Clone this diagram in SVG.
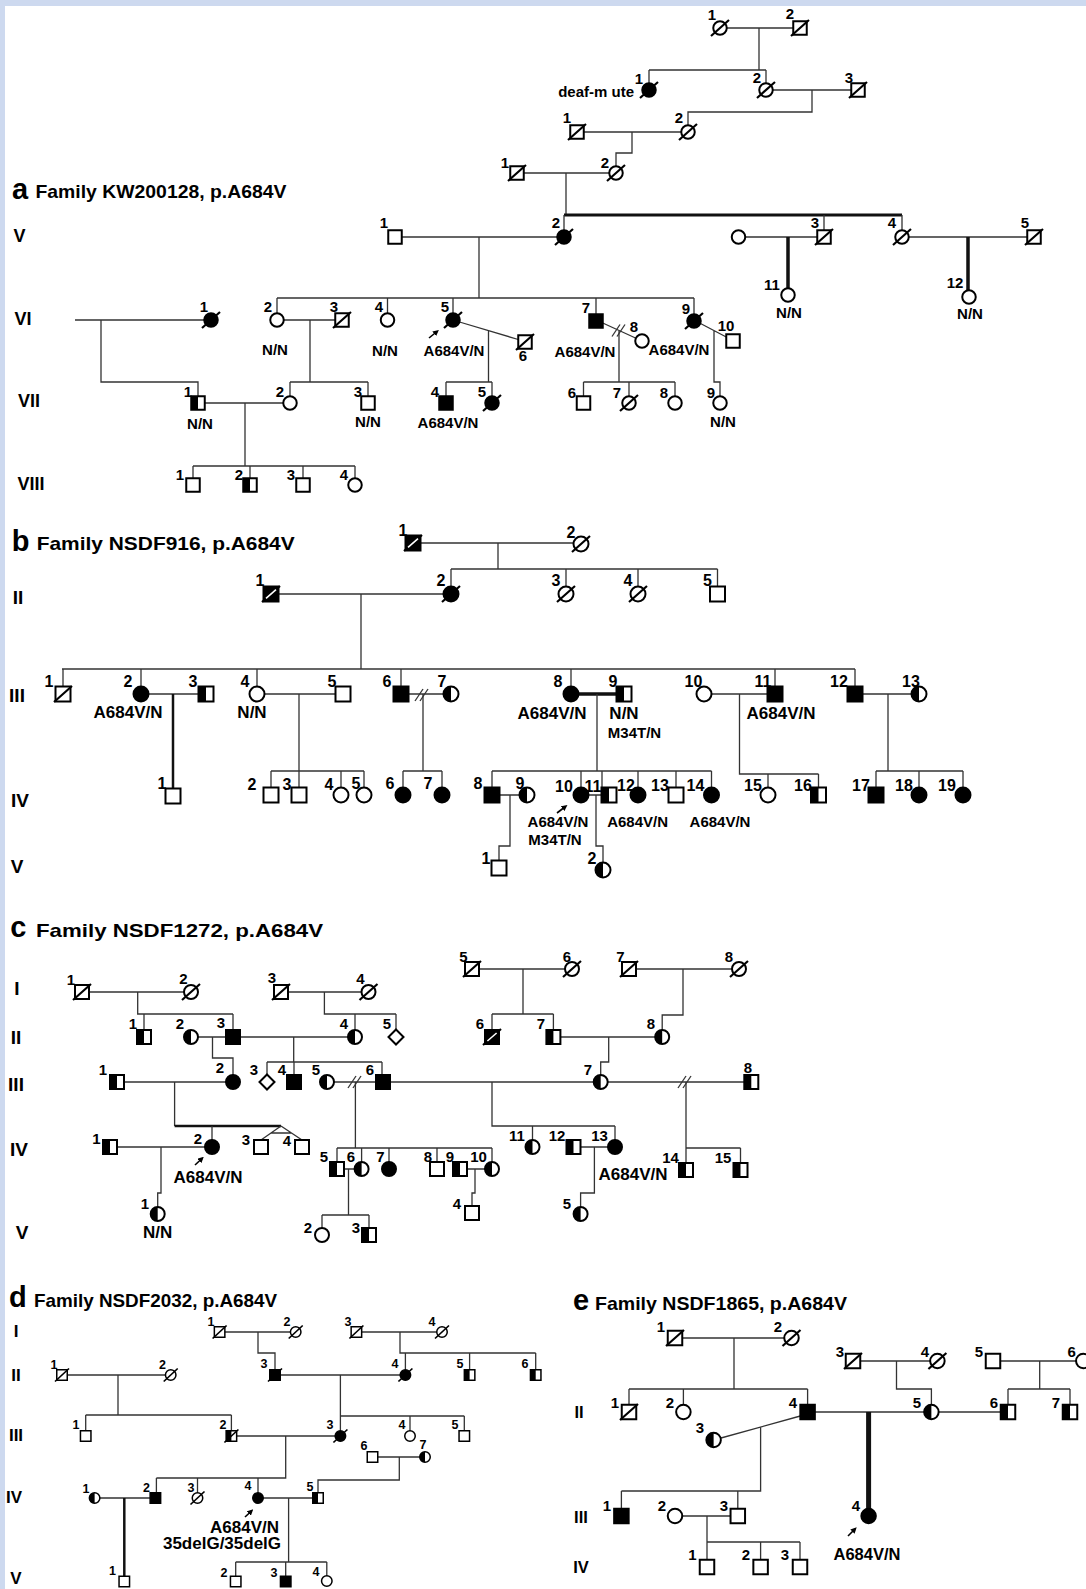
<svg xmlns="http://www.w3.org/2000/svg" xmlns:xlink="http://www.w3.org/1999/xlink" width="1086" height="1589" viewBox="0 0 1086 1589">
<style>
.ln{fill:none;stroke:#333;stroke-width:1.3}
.bd{fill:none;stroke:#111}
.sy{stroke:#000;stroke-width:2;fill:#fff}
.sd{stroke:#000;stroke-width:1.5;fill:#fff}
.k{fill:#000}
.dc{stroke:#000;stroke-width:2.2}
.dcs{stroke-width:1.7}
.t{font-family:"Liberation Sans",Arial,Helvetica,sans-serif;font-weight:bold;fill:#000;text-anchor:middle}
.st{text-anchor:start}
.en{text-anchor:end}
.n15{font-size:15px}
.n16{font-size:16px}
.n12{font-size:12.5px}
.f17{font-size:17px}
.f165{font-size:16.5px}
.f18{font-size:18px}
.f19{font-size:19px}
.big{font-size:29px}
.ar{stroke:#000;stroke-width:1.6;fill:none}
</style>
<defs>
<marker id="ah" viewBox="0 0 10 10" refX="6" refY="5" markerWidth="6" markerHeight="6" markerUnits="userSpaceOnUse" orient="auto"><path d="M0,0L10,5L0,10Z" fill="#000"/></marker>
<g id="dec"><line x1="-9" y1="8" x2="9" y2="-8" class="dc"/></g>
<g id="decd"><line x1="-7" y1="6.5" x2="7" y2="-6.5" class="dc dcs"/></g>
<g id="dsl"><line x1="-7" y1="6" x2="1" y2="-6" class="ln"/><line x1="-2" y1="6" x2="6" y2="-6" class="ln"/></g>
<!-- panel a -->
<g id="a-sq"><rect x="-6.75" y="-6.75" width="13.5" height="13.5" class="sy"/></g>
<g id="a-sqf"><rect x="-6.75" y="-6.75" width="13.5" height="13.5" class="sy k"/></g>
<g id="a-sqh"><rect x="-6.75" y="-6.75" width="13.5" height="13.5" class="sy"/><rect x="-6.75" y="-6.75" width="6.75" height="13.5" class="k"/></g>
<g id="a-ci"><circle r="6.75" class="sy"/></g>
<g id="a-cif"><circle r="6.75" class="sy k"/></g>
<!-- panel b -->
<g id="b-sq"><rect x="-7.5" y="-7.5" width="15" height="15" class="sy"/></g>
<g id="b-sqf"><rect x="-7.5" y="-7.5" width="15" height="15" class="sy k"/></g>
<g id="b-sqh"><rect x="-7.5" y="-7.5" width="15" height="15" class="sy"/><rect x="-7.5" y="-7.5" width="7.5" height="15" class="k"/></g>
<g id="b-sqfd"><rect x="-7.5" y="-7.5" width="15" height="15" class="sy k"/><line x1="-9" y1="8" x2="9" y2="-8" class="dc"/><line x1="-5" y1="4.4" x2="5" y2="-4.4" stroke="#fff" stroke-width="1.6"/></g>
<g id="b-ci"><circle r="7.5" class="sy"/></g>
<g id="b-cif"><circle r="7.5" class="sy k"/></g>
<g id="b-cih"><circle r="7.5" class="sy"/><path d="M0,-7.5A7.5,7.5 0 0 0 0,7.5Z" class="k"/></g>
<!-- panel c -->
<g id="c-sq"><rect x="-7" y="-7" width="14" height="14" class="sy"/></g>
<g id="c-sqf"><rect x="-7" y="-7" width="14" height="14" class="sy k"/></g>
<g id="c-sqh"><rect x="-7" y="-7" width="14" height="14" class="sy"/><rect x="-7" y="-7" width="7" height="14" class="k"/></g>
<g id="c-sqfd"><rect x="-7" y="-7" width="14" height="14" class="sy k"/><line x1="-9" y1="8" x2="9" y2="-8" class="dc"/><line x1="-4.6" y1="4" x2="4.6" y2="-4" stroke="#fff" stroke-width="1.6"/></g>
<g id="c-ci"><circle r="7" class="sy"/></g>
<g id="c-cif"><circle r="7" class="sy k"/></g>
<g id="c-cih"><circle r="7" class="sy"/><path d="M0,-7A7,7 0 0 0 0,7Z" class="k"/></g>
<g id="c-dia"><polygon points="0,-7.5 7.5,0 0,7.5 -7.5,0" class="sy"/></g>
<!-- panel d -->
<g id="d-sq"><rect x="-5.25" y="-5.25" width="10.5" height="10.5" class="sd"/></g>
<g id="d-sqf"><rect x="-5.25" y="-5.25" width="10.5" height="10.5" class="sd k"/></g>
<g id="d-sqh"><rect x="-5.25" y="-5.25" width="10.5" height="10.5" class="sd"/><rect x="-5.25" y="-5.25" width="5.25" height="10.5" class="k"/></g>
<g id="d-ci"><circle r="5.25" class="sd"/></g>
<g id="d-cif"><circle r="5.25" class="sd k"/></g>
<g id="d-cih"><circle r="5.25" class="sd"/><path d="M0,-5.25A5.25,5.25 0 0 0 0,5.25Z" class="k"/></g>
<!-- panel e -->
<g id="e-sq"><rect x="-7.25" y="-7.25" width="14.5" height="14.5" class="sy"/></g>
<g id="e-sqf"><rect x="-7.25" y="-7.25" width="14.5" height="14.5" class="sy k"/></g>
<g id="e-sqh"><rect x="-7.25" y="-7.25" width="14.5" height="14.5" class="sy"/><rect x="-7.25" y="-7.25" width="7.25" height="14.5" class="k"/></g>
<g id="e-ci"><circle r="7.25" class="sy"/></g>
<g id="e-cif"><circle r="7.25" class="sy k"/></g>
<g id="e-cih"><circle r="7.25" class="sy"/><path d="M0,-7.25A7.25,7.25 0 0 0 0,7.25Z" class="k"/></g>
</defs>

<rect x="0" y="0" width="1086" height="1589" fill="#fff"/>
<rect x="0" y="0" width="1086" height="6" fill="#cdd9ef"/>
<rect x="0" y="0" width="5" height="1589" fill="#cdd9ef"/>

<g id="titles">
<text class="t st big" x="12" y="199">a</text>
<text class="t st f19" x="35.5" y="198" textLength="251" lengthAdjust="spacingAndGlyphs">Family KW200128, p.A684V</text>
<text class="t st big" x="11.7" y="551">b</text>
<text class="t st f19" x="36.7" y="550" textLength="258" lengthAdjust="spacingAndGlyphs">Family NSDF916, p.A684V</text>
<text class="t st big" x="10.3" y="937">c</text>
<text class="t st f19" x="36" y="937" textLength="287" lengthAdjust="spacingAndGlyphs">Family NSDF1272, p.A684V</text>
<text class="t st big" x="9" y="1307">d</text>
<text class="t st f19" x="34" y="1306.7" textLength="243" lengthAdjust="spacingAndGlyphs">Family NSDF2032, p.A684V</text>
<text class="t st big" x="573" y="1310">e</text>
<text class="t st f19" x="595" y="1310" textLength="252" lengthAdjust="spacingAndGlyphs">Family NSDF1865, p.A684V</text>
</g>

<g id="generations">
<text class="t f18" x="19.6" y="241.5">V</text>
<text class="t f18" x="23" y="324.5">VI</text>
<text class="t f18" x="29" y="406.5">VII</text>
<text class="t f18" x="31" y="489.5">VIII</text>
<text class="t f19" x="18" y="603.8">II</text>
<text class="t f19" x="17" y="701.8">III</text>
<text class="t f19" x="20" y="806.8">IV</text>
<text class="t f19" x="17" y="872.8">V</text>
<text class="t f19" x="17" y="994.8">I</text>
<text class="t f19" x="16" y="1043.8">II</text>
<text class="t f19" x="16" y="1090.8">III</text>
<text class="t f19" x="19" y="1155.8">IV</text>
<text class="t f19" x="22" y="1238.8">V</text>
<text class="t f17" x="16" y="1337.1">I</text>
<text class="t f17" x="16" y="1381.1">II</text>
<text class="t f17" x="16" y="1441.1">III</text>
<text class="t f17" x="14" y="1503.1">IV</text>
<text class="t f17" x="16" y="1584.1">V</text>
<text class="t f165" x="579" y="1417.9">II</text>
<text class="t f165" x="581" y="1522.9">III</text>
<text class="t f165" x="581" y="1572.9">IV</text>
</g>

<g id="connectors">
<!-- panel a -->
<path class="ln" d="M726.75,28H793.25M759,28V70M649,70H766M649,70V83M766,70V83M772.75,90H851.25M812,90V112H688V125M583.75,132H681.25M632,132V153H616V166M523.75,173H609.25M566,173V215"/>
<path class="bd" stroke-width="3" d="M564,215H902"/>
<path class="ln" d="M564,215V230M824,215V230M902,215V230M401.75,237H557.25M479,237V298M745.25,237H817.25M908.75,237H1027.25"/>
<path class="bd" stroke-width="3.5" d="M788,237V288M968,237V290"/>
<path class="ln" d="M277,298H694M277,298V313.25M387.5,298V313.25M453,298V313.25M596,298V314.25M694,298V314.25"/>
<path class="ln" d="M75,320H204.25M101,320V382H198V396.25M283.75,320H335.25M310,320V382M290,382H368M290,382V396.25M368,382V396.25"/>
<path class="ln" d="M459.5,322L518.25,339.5M488.5,330.6V382M446,382H492M446,382V396.25M492,382V396.25"/>
<path class="ln" d="M204.75,403H283.25M245,403V466M193,466H355M193,466V478.25M250,466V478.25M303,466V478.25M355,466V478.25"/>
<path class="ln" d="M602.75,323L635.5,338M619,330.4V382M583.5,382H675M583.5,382V396.25M629,382V396.25M675,382V396.25"/>
<use href="#dsl" x="619" y="330.5"/>
<path class="ln" d="M700.5,323.5L726.25,337M714,330.6V382H720V396.25"/>
<!-- panel b -->
<path class="ln" d="M420.5,543H573.5M498,543V569M451,569H717.5M451,569V586.5M566,569V586.5M638,569V586.5M717.5,569V586.5"/>
<path class="ln" d="M278.5,594H443.5M361,594V669M62,669H855M63,669V686.5M141,669V686.5M257,669V686.5M401,669V686.5M571,669V686.5M775,669V686.5M855,669V686.5"/>
<path class="ln" d="M148.5,694H198.5"/>
<path class="bd" stroke-width="2.5" d="M173,694V788.5"/>
<path class="ln" d="M264.5,694H335.5M299,694V771M271,771H364M271,771V787.5M299,771V787.5M341,771V787.5M364,771V787.5"/>
<path class="ln" d="M408.5,694H443.5M423,694V771M403,771H442M403,771V787.5M442,771V787.5"/>
<use href="#dsl" x="422" y="695"/>
<path class="bd" stroke-width="3.5" d="M578.5,694H616.5"/>
<path class="ln" d="M597,694V771M492,771H711.5M492,771V787.5M581,771V787.5M602,771V787.5M638,771V787.5M676,771V787.5M711.5,771V787.5"/>
<path class="ln" d="M499.5,795H519.5M510,795V846H499V860.5M588.5,795H601.5M596,795V846H603V862.5"/>
<path class="ln" d="M711.5,694H767.5M739.5,694V774H818.5M768,774V787.5M818.5,774V787.5"/>
<path class="ln" d="M862.5,694H911.5M888,694V771M876,771H963M876,771V787.5M919,771V787.5M963,771V787.5"/>
<!-- panel c -->
<path class="ln" d="M89,992H184M137.7,992V1014H233M144,1014V1030M233,1014V1030M198,1037H226M212.5,1037V1058H233V1075"/>
<path class="ln" d="M288,992H361.5M324.4,992V1014H396M355,1014V1030M396,1014V1029.5"/>
<path class="ln" d="M240,1037H348M293.7,1037V1062M267,1062H382M267,1062V1074.5M294,1062V1075M382,1062V1075"/>
<path class="ln" d="M334,1082H376M355.4,1082V1148M337,1148H492M337,1148V1162M361.6,1148V1162M389,1148V1162M437,1148V1162M492,1148V1162"/>
<use href="#dsl" x="355" y="1082"/>
<path class="ln" d="M124,1082H226M174.6,1082V1126"/>
<path class="bd" stroke-width="2.5" d="M174.6,1126H281"/>
<path class="ln" d="M212,1126V1140M281,1126L261,1140M281,1126L302,1140M271,1133H291.5"/>
<path class="ln" d="M117,1147H205M161,1147V1193H157.7V1207"/>
<path class="ln" d="M344,1169H354.6M348.5,1169V1215M322,1215H369M322,1215V1228M369,1215V1228M467,1169H485M475,1169V1193H472V1206"/>
<path class="ln" d="M479,969H565M523,969V1014M492,1014H553.4M492,1014V1030M553.4,1014V1030"/>
<path class="ln" d="M636,969H732M683,969V1015H662.2V1030M560.4,1037H655.2M608.7,1037V1062H600.7V1075"/>
<path class="ln" d="M390,1082H593.7M492,1082V1126H615M532.5,1126V1140M615,1126V1140M580.5,1147H608M594.4,1147V1193H580.6V1207"/>
<path class="ln" d="M607.7,1082H744.3M686,1082V1148H740.5M686,1148V1163M740.5,1148V1163"/>
<use href="#dsl" x="685" y="1082"/>
<!-- panel d -->
<path class="ln" d="M224.85,1332H290.45M258,1332V1353H275V1369.75M361.65,1332H436.75M400,1332V1353H535.7M405.4,1353V1369.75M469.6,1353V1369.75M535.7,1353V1369.75"/>
<path class="ln" d="M67.25,1375H165.45M118,1375V1415M85.7,1415H231.4M85.7,1415V1430.75M231.4,1415V1430.75"/>
<path class="ln" d="M280.25,1375H400.15M340.4,1375V1416H464.3M340.4,1416V1430.75M410,1416V1430.75M464.3,1416V1430.75"/>
<path class="ln" d="M236.65,1436H335.15M285.7,1436V1478H156.4M156.4,1478V1492.75M197.5,1478V1492.75M258,1478V1492.75"/>
<path class="ln" d="M377.75,1457H419.75M399.3,1457V1480H318V1492.75M99.85,1498H150.15"/>
<path class="bd" stroke-width="2.5" d="M124.3,1498V1576.25"/>
<path class="ln" d="M263.25,1498H312.75M288.6,1498V1562M235.7,1562H326.8M235.7,1562V1576.25M285.7,1562V1576.25M326.8,1562V1575.75"/>
<!-- panel e -->
<path class="ln" d="M682.25,1338H784.25M734,1338V1389M629,1389H807.6M629,1389V1404.75M683.4,1389V1404.75M807.6,1389V1404.75"/>
<path class="ln" d="M721,1438L800.35,1416M760.6,1427V1491H621.4M621.4,1491V1508.75M737.8,1491V1508.75"/>
<path class="ln" d="M682.25,1516H730.55M707,1516V1542H800M707,1542V1559.75M760.6,1542V1559.75M800,1542V1559.75"/>
<path class="ln" d="M814.85,1412H924.15"/>
<path class="bd" stroke-width="5" d="M868.6,1412V1509"/>
<path class="ln" d="M860.25,1361H930.15M896.5,1361V1389H931.4V1404.75M1000.25,1361H1076M1039.7,1361V1389M1008,1389H1070M1008,1389V1404.75M1070,1389V1404.75M938.65,1412H1000.75"/>
<!-- proband arrows -->
<line class="ar" x1="429" y1="338" x2="437" y2="331.5" marker-end="url(#ah)"/>
<line class="ar" x1="557" y1="813" x2="565.5" y2="806.5" marker-end="url(#ah)"/>
<line class="ar" x1="195" y1="1165" x2="202" y2="1158.5" marker-end="url(#ah)"/>
<line class="ar" x1="245" y1="1517" x2="251.5" y2="1511" marker-end="url(#ah)"/>
<line class="ar" x1="848" y1="1536" x2="855" y2="1529" marker-end="url(#ah)"/>
</g>

<g id="panel-a">
<g id="a-I-1"><use href="#a-ci" x="720" y="28"/><use href="#dec" x="720" y="28"/><text class="t n15" x="712" y="20.4">1</text></g>
<g id="a-I-2"><use href="#a-sq" x="800" y="28"/><use href="#dec" x="800" y="28"/><text class="t n15" x="790" y="19.4">2</text></g>
<g id="a-II-1"><use href="#a-cif" x="649" y="90"/><use href="#dec" x="649" y="90"/><text class="t n15" x="639" y="84.4">1</text><text class="t n15 en" x="634" y="97">deaf-m ute</text></g>
<g id="a-II-2"><use href="#a-ci" x="766" y="90"/><use href="#dec" x="766" y="90"/><text class="t n15" x="757" y="83.4">2</text></g>
<g id="a-II-3"><use href="#a-sq" x="858" y="90"/><use href="#dec" x="858" y="90"/><text class="t n15" x="849" y="83.4">3</text></g>
<g id="a-III-1"><use href="#a-sq" x="577" y="132"/><use href="#dec" x="577" y="132"/><text class="t n15" x="567" y="123.4">1</text></g>
<g id="a-III-2"><use href="#a-ci" x="688" y="132"/><use href="#dec" x="688" y="132"/><text class="t n15" x="679" y="123.4">2</text></g>
<g id="a-IV-1"><use href="#a-sq" x="517" y="173"/><use href="#dec" x="517" y="173"/><text class="t n15" x="505" y="168.4">1</text></g>
<g id="a-IV-2"><use href="#a-ci" x="616" y="173"/><use href="#dec" x="616" y="173"/><text class="t n15" x="605" y="168.4">2</text></g>
<g id="a-V-1"><use href="#a-sq" x="395" y="237"/><text class="t n15" x="384" y="228.4">1</text></g>
<g id="a-V-2"><use href="#a-cif" x="564" y="237"/><use href="#dec" x="564" y="237"/><text class="t n15" x="556" y="228.4">2</text></g>
<g id="a-V-spouse"><use href="#a-ci" x="738.5" y="237"/></g>
<g id="a-V-3"><use href="#a-sq" x="824" y="237"/><use href="#dec" x="824" y="237"/><text class="t n15" x="815" y="228.4">3</text></g>
<g id="a-V-4"><use href="#a-ci" x="902" y="237"/><use href="#dec" x="902" y="237"/><text class="t n15" x="892" y="228.4">4</text></g>
<g id="a-V-5"><use href="#a-sq" x="1034" y="237"/><use href="#dec" x="1034" y="237"/><text class="t n15" x="1025" y="228.4">5</text></g>
<g id="a-VI-11"><use href="#a-ci" x="788" y="295"/><text class="t n15" x="772" y="290.4">11</text><text class="t n15" x="789" y="318.4">N/N</text></g>
<g id="a-VI-12"><use href="#a-ci" x="969" y="297"/><text class="t n15" x="955" y="288.4">12</text><text class="t n15" x="970" y="319.4">N/N</text></g>
<g id="a-VI-1"><use href="#a-cif" x="211" y="320"/><use href="#dec" x="211" y="320"/><text class="t n15" x="204" y="312.4">1</text></g>
<g id="a-VI-2"><use href="#a-ci" x="277" y="320"/><text class="t n15" x="268" y="312.4">2</text><text class="t n15" x="275" y="355.4">N/N</text></g>
<g id="a-VI-3"><use href="#a-sq" x="342" y="320"/><use href="#dec" x="342" y="320"/><text class="t n15" x="334" y="312.4">3</text></g>
<g id="a-VI-4"><use href="#a-ci" x="387.5" y="320"/><text class="t n15" x="379" y="312.4">4</text><text class="t n15" x="385" y="356.4">N/N</text></g>
<g id="a-VI-5"><use href="#a-cif" x="453" y="320"/><use href="#dec" x="453" y="320"/><text class="t n15" x="445" y="312.4">5</text><text class="t n15" x="454" y="356.4">A684V/N</text></g>
<g id="a-VI-6"><use href="#a-sq" x="525" y="342"/><use href="#dec" x="525" y="342"/><text class="t n15" x="523" y="361">6</text></g>
<g id="a-VI-7"><use href="#a-sqf" x="596" y="321"/><text class="t n15" x="586" y="313.4">7</text><text class="t n15" x="585" y="357">A684V/N</text></g>
<g id="a-VI-8"><use href="#a-ci" x="642" y="341"/><text class="t n15" x="634" y="332">8</text><text class="t n15" x="679" y="355.4">A684V/N</text></g>
<g id="a-VI-9"><use href="#a-cif" x="694" y="321"/><use href="#dec" x="694" y="321"/><text class="t n15" x="686" y="314.4">9</text></g>
<g id="a-VI-10"><use href="#a-sq" x="733" y="341"/><text class="t n15" x="726" y="331.4">10</text></g>
<g id="a-VII-1"><use href="#a-sqh" x="198" y="403"/><text class="t n15" x="188" y="397.4">1</text><text class="t n15" x="200" y="429.4">N/N</text></g>
<g id="a-VII-2"><use href="#a-ci" x="290" y="403"/><text class="t n15" x="280" y="397.4">2</text></g>
<g id="a-VII-3"><use href="#a-sq" x="368" y="403"/><text class="t n15" x="358" y="397.4">3</text><text class="t n15" x="368" y="427.4">N/N</text></g>
<g id="a-VII-4"><use href="#a-sqf" x="446" y="403"/><text class="t n15" x="435" y="397.4">4</text><text class="t n15" x="448" y="428.4">A684V/N</text></g>
<g id="a-VII-5"><use href="#a-cif" x="492" y="403"/><use href="#dec" x="492" y="403"/><text class="t n15" x="482" y="397.4">5</text></g>
<g id="a-VII-6"><use href="#a-sq" x="583.5" y="403"/><text class="t n15" x="572" y="398.4">6</text></g>
<g id="a-VII-7"><use href="#a-ci" x="629" y="403"/><use href="#dec" x="629" y="403"/><text class="t n15" x="617" y="398.4">7</text></g>
<g id="a-VII-8"><use href="#a-ci" x="675" y="403"/><text class="t n15" x="664" y="398.4">8</text></g>
<g id="a-VII-9"><use href="#a-ci" x="720" y="403"/><text class="t n15" x="711" y="398.4">9</text><text class="t n15" x="723" y="427.4">N/N</text></g>
<g id="a-VIII-1"><use href="#a-sq" x="193" y="485"/><text class="t n15" x="180" y="480.4">1</text></g>
<g id="a-VIII-2"><use href="#a-sqh" x="250" y="485"/><text class="t n15" x="239" y="480.4">2</text></g>
<g id="a-VIII-3"><use href="#a-sq" x="303" y="485"/><text class="t n15" x="291" y="480.4">3</text></g>
<g id="a-VIII-4"><use href="#a-ci" x="355" y="485"/><text class="t n15" x="344" y="480.4">4</text></g>
</g>

<g id="panel-b">
<g id="b-I-1"><use href="#b-sqfd" x="413" y="543"/><text class="t n16" x="403" y="535.8">1</text></g>
<g id="b-I-2"><use href="#b-ci" x="581" y="544"/><use href="#dec" x="581" y="544"/><text class="t n16" x="571" y="537.8">2</text></g>
<g id="b-II-1"><use href="#b-sqfd" x="271" y="594"/><text class="t n16" x="260" y="585.8">1</text></g>
<g id="b-II-2"><use href="#b-cif" x="451" y="594"/><use href="#dec" x="451" y="594"/><text class="t n16" x="441" y="585.8">2</text></g>
<g id="b-II-3"><use href="#b-ci" x="566" y="594"/><use href="#dec" x="566" y="594"/><text class="t n16" x="556" y="585.8">3</text></g>
<g id="b-II-4"><use href="#b-ci" x="638" y="594"/><use href="#dec" x="638" y="594"/><text class="t n16" x="628" y="585.8">4</text></g>
<g id="b-II-5"><use href="#b-sq" x="717.5" y="594"/><text class="t n16" x="707.5" y="585.8">5</text></g>
<g id="b-III-1"><use href="#b-sq" x="63" y="694"/><use href="#dec" x="63" y="694"/><text class="t n16" x="49" y="686.5">1</text></g>
<g id="b-III-2"><use href="#b-cif" x="141" y="694"/><text class="t n16" x="128" y="686.5">2</text><text class="t f17" x="128" y="718">A684V/N</text></g>
<g id="b-III-3"><use href="#b-sqh" x="206" y="694"/><text class="t n16" x="193" y="686.5">3</text></g>
<g id="b-III-4"><use href="#b-ci" x="257" y="694"/><text class="t n16" x="245" y="686.5">4</text><text class="t f17" x="252" y="718">N/N</text></g>
<g id="b-III-5"><use href="#b-sq" x="343" y="694"/><text class="t n16" x="332" y="686.5">5</text></g>
<g id="b-III-6"><use href="#b-sqf" x="401" y="694"/><text class="t n16" x="387" y="686.5">6</text></g>
<g id="b-III-7"><use href="#b-cih" x="451" y="694"/><text class="t n16" x="442" y="686.5">7</text></g>
<g id="b-III-8"><use href="#b-cif" x="571" y="694"/><text class="t n16" x="558" y="686.5">8</text><text class="t f17" x="552" y="719">A684V/N</text></g>
<g id="b-III-9"><use href="#b-sqh" x="624" y="694"/><text class="t n16" x="613" y="686.5">9</text><text class="t f17" x="624" y="719">N/N</text><text class="t n15" x="634.5" y="738.4">M34T/N</text></g>
<g id="b-III-10"><use href="#b-ci" x="704" y="694"/><text class="t n16" x="693.5" y="686.5">10</text></g>
<g id="b-III-11"><use href="#b-sqf" x="775" y="694"/><text class="t n16" x="763" y="686.5">11</text><text class="t f17" x="781" y="719">A684V/N</text></g>
<g id="b-III-12"><use href="#b-sqf" x="855" y="694"/><text class="t n16" x="839" y="686.5">12</text></g>
<g id="b-III-13"><use href="#b-cih" x="919" y="694"/><text class="t n16" x="911" y="686.5">13</text></g>
<g id="b-IV-1"><use href="#b-sq" x="173" y="796"/><text class="t n16" x="162" y="788.8">1</text></g>
<g id="b-IV-2"><use href="#b-sq" x="271" y="795"/><text class="t n16" x="252" y="789.8">2</text></g>
<g id="b-IV-3"><use href="#b-sq" x="299" y="795"/><text class="t n16" x="287" y="789.8">3</text></g>
<g id="b-IV-4"><use href="#b-ci" x="341" y="795"/><text class="t n16" x="329" y="789.8">4</text></g>
<g id="b-IV-5"><use href="#b-ci" x="364" y="795"/><text class="t n16" x="356" y="788.8">5</text></g>
<g id="b-IV-6"><use href="#b-cif" x="403" y="795"/><text class="t n16" x="390" y="788.8">6</text></g>
<g id="b-IV-7"><use href="#b-cif" x="442" y="795"/><text class="t n16" x="428" y="788.8">7</text></g>
<g id="b-IV-8"><use href="#b-sqf" x="492" y="795"/><text class="t n16" x="478" y="788.8">8</text></g>
<g id="b-IV-9"><use href="#b-cih" x="527" y="795"/><text class="t n16" x="520" y="788.8">9</text></g>
<g id="b-IV-10"><use href="#b-cif" x="581" y="795"/><text class="t n16" x="564" y="791.8">10</text><text class="t n15" x="558" y="827.4">A684V/N</text><text class="t n15" x="555" y="844.8">M34T/N</text></g>
<g id="b-IV-11"><use href="#b-sqh" x="609" y="795"/><text class="t n16" x="593" y="791.8">11</text></g>
<g id="b-IV-12"><use href="#b-cif" x="638" y="795"/><text class="t n16" x="626" y="790.8">12</text><text class="t n15" x="637.6" y="827.4">A684V/N</text></g>
<g id="b-IV-13"><use href="#b-sq" x="676" y="795"/><text class="t n16" x="660" y="790.8">13</text></g>
<g id="b-IV-14"><use href="#b-cif" x="711.5" y="795"/><text class="t n16" x="695.5" y="790.8">14</text><text class="t n15" x="720" y="827.4">A684V/N</text></g>
<g id="b-IV-15"><use href="#b-ci" x="768" y="795"/><text class="t n16" x="753" y="790.8">15</text></g>
<g id="b-IV-16"><use href="#b-sqh" x="818.5" y="795"/><text class="t n16" x="803" y="790.8">16</text></g>
<g id="b-IV-17"><use href="#b-sqf" x="876" y="795"/><text class="t n16" x="861" y="790.8">17</text></g>
<g id="b-IV-18"><use href="#b-cif" x="919" y="795"/><text class="t n16" x="904" y="790.8">18</text></g>
<g id="b-IV-19"><use href="#b-cif" x="963" y="795"/><text class="t n16" x="947" y="790.8">19</text></g>
<g id="b-V-1"><use href="#b-sq" x="499" y="868"/><text class="t n16" x="486" y="863.8">1</text></g>
<g id="b-V-2"><use href="#b-cih" x="603" y="870"/><text class="t n16" x="592" y="863.8">2</text></g>
</g>

<g id="panel-c">
<g id="c-I-1"><use href="#c-sq" x="82" y="992"/><use href="#dec" x="82" y="992"/><text class="t n15" x="71" y="985.4">1</text></g>
<g id="c-I-2"><use href="#c-ci" x="191" y="992"/><use href="#dec" x="191" y="992"/><text class="t n15" x="183.5" y="984.4">2</text></g>
<g id="c-I-3"><use href="#c-sq" x="281" y="992"/><use href="#dec" x="281" y="992"/><text class="t n15" x="272" y="983.4">3</text></g>
<g id="c-I-4"><use href="#c-ci" x="368.5" y="992"/><use href="#dec" x="368.5" y="992"/><text class="t n15" x="360.5" y="984.4">4</text></g>
<g id="c-I-5"><use href="#c-sq" x="472" y="969"/><use href="#dec" x="472" y="969"/><text class="t n15" x="463.5" y="962.4">5</text></g>
<g id="c-I-6"><use href="#c-ci" x="572" y="969"/><use href="#dec" x="572" y="969"/><text class="t n15" x="567" y="962.4">6</text></g>
<g id="c-I-7"><use href="#c-sq" x="629" y="969"/><use href="#dec" x="629" y="969"/><text class="t n15" x="620.4" y="962.4">7</text></g>
<g id="c-I-8"><use href="#c-ci" x="739" y="969"/><use href="#dec" x="739" y="969"/><text class="t n15" x="729" y="962.4">8</text></g>
<g id="c-II-1"><use href="#c-sqh" x="144" y="1037"/><text class="t n15" x="133" y="1029.4">1</text></g>
<g id="c-II-2"><use href="#c-cih" x="191" y="1037"/><text class="t n15" x="180" y="1029.4">2</text></g>
<g id="c-II-3"><use href="#c-sqf" x="233" y="1037"/><text class="t n15" x="221" y="1028.4">3</text></g>
<g id="c-II-4"><use href="#c-cih" x="355" y="1037"/><text class="t n15" x="344" y="1029.4">4</text></g>
<g id="c-II-5"><use href="#c-dia" x="396" y="1037"/><text class="t n15" x="387" y="1029.4">5</text></g>
<g id="c-II-6"><use href="#c-sqfd" x="492" y="1037"/><text class="t n15" x="480" y="1029.4">6</text></g>
<g id="c-II-7"><use href="#c-sqh" x="553.4" y="1037"/><text class="t n15" x="541" y="1029.4">7</text></g>
<g id="c-II-8"><use href="#c-cih" x="662.2" y="1037"/><text class="t n15" x="651" y="1029.4">8</text></g>
<g id="c-III-1"><use href="#c-sqh" x="117" y="1082"/><text class="t n15" x="103" y="1075.4">1</text></g>
<g id="c-III-2"><use href="#c-cif" x="233" y="1082"/><text class="t n15" x="220" y="1073.4">2</text></g>
<g id="c-III-3"><use href="#c-dia" x="267" y="1082"/><text class="t n15" x="254" y="1075.4">3</text></g>
<g id="c-III-4"><use href="#c-sqf" x="294" y="1082"/><text class="t n15" x="282" y="1075.4">4</text></g>
<g id="c-III-5"><use href="#c-cih" x="327" y="1082"/><text class="t n15" x="316" y="1075.4">5</text></g>
<g id="c-III-6"><use href="#c-sqf" x="383" y="1082"/><text class="t n15" x="370" y="1075.4">6</text></g>
<g id="c-III-7"><use href="#c-cih" x="600.7" y="1082"/><text class="t n15" x="588" y="1075.4">7</text></g>
<g id="c-III-8"><use href="#c-sqh" x="751.3" y="1082"/><text class="t n15" x="748" y="1073.4">8</text></g>
<g id="c-IV-1"><use href="#c-sqh" x="110" y="1147"/><text class="t n15" x="96.5" y="1144.4">1</text></g>
<g id="c-IV-2"><use href="#c-cif" x="212" y="1147"/><text class="t n15" x="198" y="1144.4">2</text><text class="t f17" x="208" y="1183.1">A684V/N</text></g>
<g id="c-IV-3"><use href="#c-sq" x="261" y="1147"/><text class="t n15" x="246" y="1145.4">3</text></g>
<g id="c-IV-4"><use href="#c-sq" x="302" y="1147"/><text class="t n15" x="287" y="1146">4</text></g>
<g id="c-IV-5"><use href="#c-sqh" x="337" y="1169"/><text class="t n15" x="324" y="1162.4">5</text></g>
<g id="c-IV-6"><use href="#c-cih" x="361.6" y="1169"/><text class="t n15" x="351" y="1162.4">6</text></g>
<g id="c-IV-7"><use href="#c-cif" x="389" y="1169"/><text class="t n15" x="380.5" y="1162.4">7</text></g>
<g id="c-IV-8"><use href="#c-sq" x="437" y="1169"/><text class="t n15" x="428" y="1162.4">8</text></g>
<g id="c-IV-9"><use href="#c-sqh" x="460" y="1169"/><text class="t n15" x="450" y="1162.4">9</text></g>
<g id="c-IV-10"><use href="#c-cih" x="492" y="1169"/><text class="t n15" x="478.6" y="1162.4">10</text></g>
<g id="c-IV-11"><use href="#c-cih" x="532.5" y="1147"/><text class="t n15" x="517" y="1141.4">11</text></g>
<g id="c-IV-12"><use href="#c-sqh" x="573.5" y="1147"/><text class="t n15" x="557" y="1141.4">12</text></g>
<g id="c-IV-13"><use href="#c-cif" x="615" y="1147"/><text class="t n15" x="599.5" y="1141.4">13</text><text class="t f17" x="633" y="1180">A684V/N</text></g>
<g id="c-IV-14"><use href="#c-sqh" x="686" y="1170"/><text class="t n15" x="670.6" y="1163.4">14</text></g>
<g id="c-IV-15"><use href="#c-sqh" x="740.5" y="1170"/><text class="t n15" x="723" y="1163.4">15</text></g>
<g id="c-V-1"><use href="#c-cih" x="157.7" y="1214"/><text class="t n15" x="145" y="1209.4">1</text><text class="t f17" x="157.7" y="1238">N/N</text></g>
<g id="c-V-2"><use href="#c-ci" x="322" y="1235"/><text class="t n15" x="308" y="1233.4">2</text></g>
<g id="c-V-3"><use href="#c-sqh" x="369" y="1235"/><text class="t n15" x="356" y="1233.4">3</text></g>
<g id="c-V-4"><use href="#c-sq" x="472" y="1213"/><text class="t n15" x="457" y="1209.4">4</text></g>
<g id="c-V-5"><use href="#c-cih" x="580.6" y="1214"/><text class="t n15" x="567" y="1209.4">5</text></g>
</g>

<g id="panel-d">
<g id="d-I-1"><use href="#d-sq" x="219.6" y="1332"/><use href="#decd" x="219.6" y="1332"/><text class="t n12" x="211" y="1325.5">1</text></g>
<g id="d-I-2"><use href="#d-ci" x="295.7" y="1332"/><use href="#decd" x="295.7" y="1332"/><text class="t n12" x="287" y="1325.5">2</text></g>
<g id="d-I-3"><use href="#d-sq" x="356.4" y="1332"/><use href="#decd" x="356.4" y="1332"/><text class="t n12" x="348" y="1325.5">3</text></g>
<g id="d-I-4"><use href="#d-ci" x="442" y="1332"/><use href="#decd" x="442" y="1332"/><text class="t n12" x="432" y="1325.5">4</text></g>
<g id="d-II-1"><use href="#d-sq" x="62" y="1375"/><use href="#decd" x="62" y="1375"/><text class="t n12" x="54" y="1368.5">1</text></g>
<g id="d-II-2"><use href="#d-ci" x="170.7" y="1375"/><use href="#decd" x="170.7" y="1375"/><text class="t n12" x="162.5" y="1368.5">2</text></g>
<g id="d-II-3"><use href="#d-sqf" x="275" y="1375"/><use href="#decd" x="275" y="1375"/><text class="t n12" x="264" y="1367.5">3</text></g>
<g id="d-II-4"><use href="#d-cif" x="405.4" y="1375"/><use href="#decd" x="405.4" y="1375"/><text class="t n12" x="395" y="1367.5">4</text></g>
<g id="d-II-5"><use href="#d-sqh" x="469.6" y="1375"/><text class="t n12" x="460" y="1367.5">5</text></g>
<g id="d-II-6"><use href="#d-sqh" x="535.7" y="1375"/><text class="t n12" x="525" y="1367.5">6</text></g>
<g id="d-III-1"><use href="#d-sq" x="85.7" y="1436"/><text class="t n12" x="76" y="1428.5">1</text></g>
<g id="d-III-2"><use href="#d-sqh" x="231.4" y="1436"/><use href="#decd" x="231.4" y="1436"/><text class="t n12" x="223" y="1428.5">2</text></g>
<g id="d-III-3"><use href="#d-cif" x="340.4" y="1436"/><use href="#decd" x="340.4" y="1436"/><text class="t n12" x="330" y="1428.5">3</text></g>
<g id="d-III-4"><use href="#d-ci" x="410" y="1436"/><text class="t n12" x="402" y="1428.5">4</text></g>
<g id="d-III-5"><use href="#d-sq" x="464.3" y="1436"/><text class="t n12" x="455" y="1428.5">5</text></g>
<g id="d-III-6"><use href="#d-sq" x="372.5" y="1457"/><text class="t n12" x="364" y="1449.5">6</text></g>
<g id="d-III-7"><use href="#d-cih" x="425" y="1457"/><text class="t n12" x="423" y="1448.5">7</text></g>
<g id="d-IV-1"><use href="#d-cih" x="94.6" y="1498"/><text class="t n12" x="86" y="1492.5">1</text></g>
<g id="d-IV-2"><use href="#d-sqf" x="155.4" y="1498"/><text class="t n12" x="146.4" y="1491.5">2</text></g>
<g id="d-IV-3"><use href="#d-ci" x="197.5" y="1498"/><use href="#decd" x="197.5" y="1498"/><text class="t n12" x="191" y="1491.5">3</text></g>
<g id="d-IV-4"><use href="#d-cif" x="258" y="1498"/><text class="t n12" x="248" y="1489.5">4</text><text class="t f17" x="244.6" y="1532.8">A684V/N</text><text class="t f17" x="222" y="1549.1">35delG/35delG</text></g>
<g id="d-IV-5"><use href="#d-sqh" x="318" y="1498"/><text class="t n12" x="310" y="1490.5">5</text></g>
<g id="d-V-1"><use href="#d-sq" x="124.3" y="1581.5"/><text class="t n12" x="112.5" y="1574.5">1</text></g>
<g id="d-V-2"><use href="#d-sq" x="235.7" y="1581.5"/><text class="t n12" x="224" y="1576.5">2</text></g>
<g id="d-V-3"><use href="#d-sqf" x="285.7" y="1581.5"/><text class="t n12" x="274" y="1576.5">3</text></g>
<g id="d-V-4"><use href="#d-ci" x="326.8" y="1581"/><text class="t n12" x="316" y="1575.5">4</text></g>
</g>

<g id="panel-e">
<g id="e-I-1"><use href="#e-sq" x="675" y="1338"/><use href="#dec" x="675" y="1338"/><text class="t n15" x="661" y="1332.4">1</text></g>
<g id="e-I-2"><use href="#e-ci" x="791.5" y="1338"/><use href="#dec" x="791.5" y="1338"/><text class="t n15" x="778" y="1332.4">2</text></g>
<g id="e-I-3"><use href="#e-sq" x="853" y="1361"/><use href="#dec" x="853" y="1361"/><text class="t n15" x="840" y="1357.4">3</text></g>
<g id="e-I-4"><use href="#e-ci" x="937.4" y="1361"/><use href="#dec" x="937.4" y="1361"/><text class="t n15" x="925" y="1357.4">4</text></g>
<g id="e-I-5"><use href="#e-sq" x="993" y="1361"/><text class="t n15" x="979" y="1357.4">5</text></g>
<g id="e-I-6"><use href="#e-ci" x="1083.3" y="1361"/><text class="t n15" x="1071.6" y="1357.4">6</text></g>
<g id="e-II-1"><use href="#e-sq" x="629" y="1412"/><use href="#dec" x="629" y="1412"/><text class="t n15" x="615" y="1408.4">1</text></g>
<g id="e-II-2"><use href="#e-ci" x="683.4" y="1412"/><text class="t n15" x="670" y="1408.4">2</text></g>
<g id="e-II-3"><use href="#e-cih" x="713.6" y="1440"/><text class="t n15" x="700" y="1433.4">3</text></g>
<g id="e-II-4"><use href="#e-sqf" x="807.6" y="1412"/><text class="t n15" x="793" y="1408.4">4</text></g>
<g id="e-II-5"><use href="#e-cih" x="931.4" y="1412"/><text class="t n15" x="917" y="1408.4">5</text></g>
<g id="e-II-6"><use href="#e-sqh" x="1008" y="1412"/><text class="t n15" x="994" y="1408.4">6</text></g>
<g id="e-II-7"><use href="#e-sqh" x="1070" y="1412"/><text class="t n15" x="1056" y="1408.4">7</text></g>
<g id="e-III-1"><use href="#e-sqf" x="621.4" y="1516"/><text class="t n15" x="607" y="1511.4">1</text></g>
<g id="e-III-2"><use href="#e-ci" x="675" y="1516"/><text class="t n15" x="662" y="1511.4">2</text></g>
<g id="e-III-3"><use href="#e-sq" x="737.8" y="1516"/><text class="t n15" x="724" y="1511.4">3</text></g>
<g id="e-III-4"><use href="#e-cif" x="868.6" y="1516"/><text class="t n15" x="856" y="1511.4">4</text><text class="t f165" x="867" y="1560">A684V/N</text></g>
<g id="e-IV-1"><use href="#e-sq" x="707" y="1567"/><text class="t n15" x="692.5" y="1560.4">1</text></g>
<g id="e-IV-2"><use href="#e-sq" x="760.6" y="1567"/><text class="t n15" x="746" y="1560.4">2</text></g>
<g id="e-IV-3"><use href="#e-sq" x="800" y="1567"/><text class="t n15" x="785" y="1560.4">3</text></g>
</g>
</svg>
